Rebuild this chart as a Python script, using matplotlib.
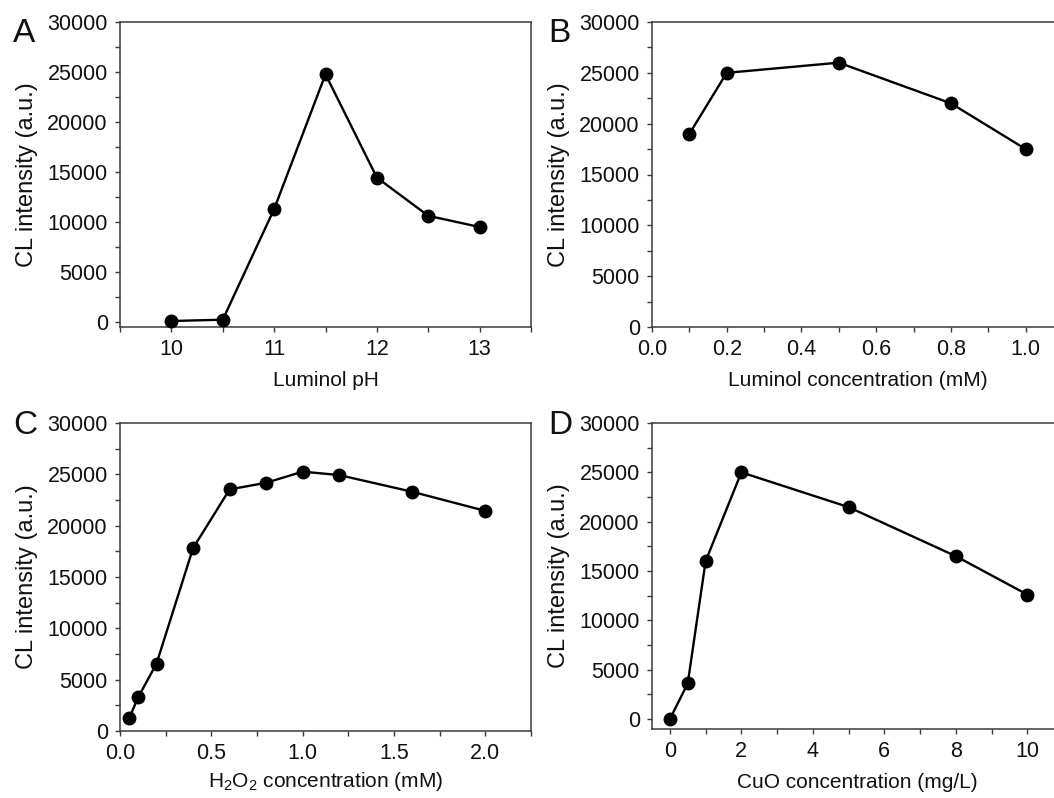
"""Four-panel CL optimisation figure (luminol pH, luminol, H2O2, CuO)."""

import matplotlib
import matplotlib.pyplot as plt
from matplotlib.ticker import MultipleLocator

matplotlib.use("Agg")

plt.rcParams["font.family"] = ["Liberation Sans", "DejaVu Sans"]
plt.rcParams["mathtext.fontset"] = "custom"
plt.rcParams["mathtext.rm"] = "Liberation Sans"
plt.rcParams["mathtext.it"] = "Liberation Sans:italic"

# ------------------------------------------------------------------
# Data
# ------------------------------------------------------------------
ph_values = [10, 10.5, 11, 11.5, 12, 12.5, 13]
ph_intensity = [100, 230, 11290, 24770, 14440, 10620, 9500]

luminol_conc = [0.1, 0.2, 0.5, 0.8, 1.0]
luminol_intensity = [19000, 25000, 26000, 22000, 17500]

h2o2_conc = [0.05, 0.1, 0.2, 0.4, 0.6, 0.8, 1.0, 1.2, 1.6, 2.0]
h2o2_intensity = [1240, 3300, 6570, 17810, 23530, 24180, 25260, 24930, 23300, 21440]

cuo_conc = [0, 0.5, 1, 2, 5, 8, 10]
cuo_intensity = [0, 3620, 16000, 25000, 21480, 16510, 12620]

W, H = 1054, 798
SPINE = "#3a3a3a"
TEXT = "#111111"


def make_axes(fig, left, top, right, bottom):
    # pixel box -> figure fraction (right edge may lie beyond the canvas)
    return fig.add_axes([left / W, 1 - bottom / H, (right - left) / W, (bottom - top) / H])


def style_panel(ax, x, y, xlim, ylim, xmajor, xminor, xfmt, xlabel, letter, letter_xy,
                xlabelpad=8):
    ax.plot(x, y, color="black", lw=1.7, marker="o", markersize=9,
            markerfacecolor="black", markeredgecolor="black", clip_on=False, zorder=3)
    ax.set_xlim(*xlim)
    ax.set_ylim(*ylim)
    ax.xaxis.set_major_locator(MultipleLocator(xmajor))
    ax.xaxis.set_minor_locator(MultipleLocator(xminor))
    ax.yaxis.set_major_locator(MultipleLocator(5000))
    ax.yaxis.set_minor_locator(MultipleLocator(2500))
    ax.xaxis.set_major_formatter(xfmt)
    ax.tick_params(which="both", direction="out", length=3.8, width=1.0,
                   color=SPINE, top=False, right=False)
    ax.tick_params(axis="both", which="major", labelsize=15.5, pad=5, labelcolor=TEXT)
    for sp in ax.spines.values():
        sp.set_color(SPINE)
        sp.set_linewidth(1.1)
    ax.set_xlabel(xlabel, fontsize=15, labelpad=xlabelpad, color=TEXT)
    ax.set_ylabel("CL intensity (a.u.)", fontsize=17, color=TEXT)
    ax.yaxis.set_label_coords(-0.2, 0.5)
    ax.figure.text(letter_xy[0] / W, 1 - letter_xy[1] / H, letter, fontsize=24,
                   ha="left", va="center", color=TEXT)


fig = plt.figure(figsize=(W / 100, H / 100), dpi=100)

ax_a = make_axes(fig, 120, 22, 531, 327)
style_panel(ax_a, ph_values, ph_intensity, (9.5, 13.5), (-500, 30000),
            1, 0.5, "{x:.0f}", "Luminol pH", "A", (13, 33))

ax_b = make_axes(fig, 652, 22, 1063, 327)
style_panel(ax_b, luminol_conc, luminol_intensity, (0, 1.1), (0, 30000),
            0.2, 0.1, "{x:.1f}", "Luminol concentration (mM)", "B", (548, 33))

ax_c = make_axes(fig, 120, 423, 531, 731)
style_panel(ax_c, h2o2_conc, h2o2_intensity, (0, 2.25), (0, 30000),
            0.5, 0.25, "{x:.1f}", r"H$_2$O$_2$ concentration (mM)", "C", (13, 426),
            xlabelpad=4)

ax_d = make_axes(fig, 652, 423, 1063, 729)
style_panel(ax_d, cuo_conc, cuo_intensity, (-0.5, 11), (-1000, 30000),
            2, 1, "{x:.0f}", "CuO concentration (mg/L)", "D", (548, 426))

fig.savefig("out.png", dpi=100)
